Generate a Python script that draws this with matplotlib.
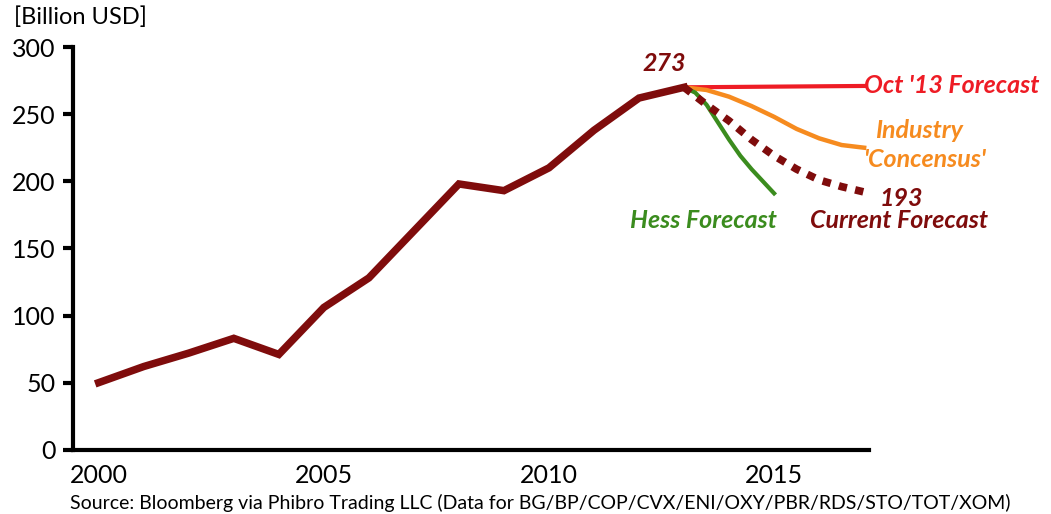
import numpy as np
import matplotlib.pyplot as plt

plt.rcParams['font.family'] = ['Lato', 'DejaVu Sans']

# historical capex, billion USD
years = [2000, 2001, 2002, 2003, 2004, 2005, 2006, 2007, 2008, 2009, 2010, 2011, 2012, 2013]
capex = [50, 62, 72, 83, 71, 106, 128, 163, 198, 193, 210, 238, 262, 270]

# forecasts
oct13_x = [2013, 2017]
oct13_y = [270, 271]

industry_x = [2013, 2013.5, 2014, 2014.5, 2015, 2015.5, 2016, 2016.5, 2017]
industry_y = [270, 268, 263, 256, 248, 239, 232, 227, 225]

hess_x = [2013, 2013.25, 2013.5, 2013.75, 2014, 2014.25, 2014.5, 2014.75, 2015]
hess_y = [270, 266, 257, 244, 231, 219, 209, 200, 191]

current_x = [2013, 2013.5, 2014, 2014.5, 2015, 2015.5, 2016, 2016.5, 2017]
current_y = [270, 257, 245, 231, 219, 209, 201, 196, 192]

dark = '#7f0c0c'
red = '#ee1c25'
orange = '#f68b1f'
green = '#3b8c1e'

fig = plt.figure(figsize=(10.51, 5.14), dpi=100)
ax = fig.add_axes([0.0695, 0.125, 0.757, 0.7835])

ax.plot(years, capex, color=dark, lw=5.4, solid_joinstyle='miter', zorder=5)
ax.plot(oct13_x, oct13_y, color=red, lw=3)
ax.plot(industry_x, industry_y, color=orange, lw=3.2)
ax.plot(hess_x, hess_y, color=green, lw=3)
ax.plot(current_x, current_y, color=dark, lw=5.5, ls=(0, (1.1, 1.1)), zorder=4)

ax.set_xlim(1999.43, 2017.1)
ax.set_ylim(0, 300)
ax.set_xticks([2000, 2005, 2010, 2015])
ax.set_yticks([0, 50, 100, 150, 200, 250, 300])

for s in ['top', 'right']:
    ax.spines[s].set_visible(False)
for s in ['left', 'bottom']:
    ax.spines[s].set_linewidth(3)
ax.tick_params(axis='y', length=7.5, width=3, labelsize=18, pad=5)
ax.tick_params(axis='x', length=0, labelsize=18, pad=10)

lab = dict(fontsize=18, fontweight='bold', fontstyle='italic')
ax.text(2012.55, 279, '273', color=dark, ha='center', va='bottom', **lab)
ax.text(2017.0, 271, "Oct '13 Forecast", color=red, ha='left', va='center',
        clip_on=False, **lab)
ax.text(2017.25, 238, 'Industry', color=orange, ha='left', va='center',
        clip_on=False, **lab)
ax.text(2017.0, 216, "'Concensus'", color=orange, ha='left', va='center',
        clip_on=False, **lab)
ax.text(2017.35, 187, '193', color=dark, ha='left', va='center',
        clip_on=False, **lab)
ax.text(2015.8, 171, 'Current Forecast', color=dark, ha='left', va='center',
        clip_on=False, **lab)
ax.text(2013.42, 171, 'Hess Forecast', color=green, ha='center', va='center', **lab)

fig.text(0.013, 0.988, '[Billion USD]', fontsize=17, ha='left', va='top')
fig.text(0.067, 0.004, 'Source: Bloomberg via Phibro Trading LLC '
         '(Data for BG/BP/COP/CVX/ENI/OXY/PBR/RDS/STO/TOT/XOM)',
         fontsize=14, ha='left', va='bottom')

fig.savefig('out.png', dpi=100)
